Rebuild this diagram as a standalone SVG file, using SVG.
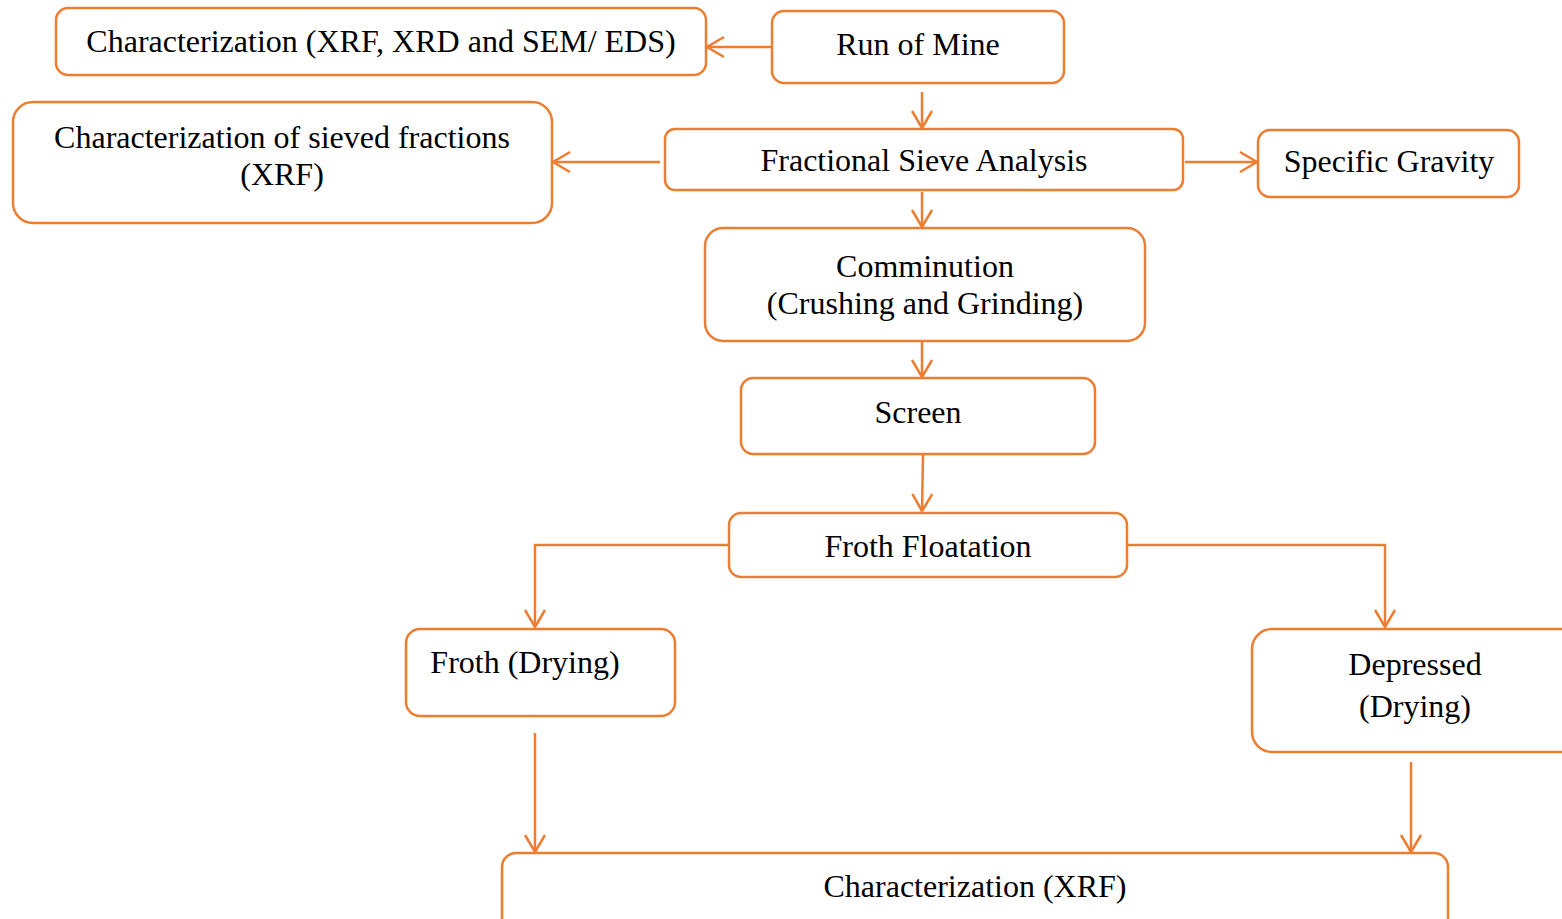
<svg xmlns="http://www.w3.org/2000/svg" width="1562" height="919" viewBox="0 0 1562 919">
<defs>
<marker id="arr" viewBox="0 0 24 24" refX="21" refY="12" markerWidth="24" markerHeight="24" markerUnits="userSpaceOnUse" orient="auto">
<polyline points="4,2 21,12 4,22" fill="none" stroke="#ED7D31" stroke-width="2.5"/>
</marker>
<style>
.box{fill:#fff;stroke:#ED7D31;stroke-width:2.5}
.c{fill:none;stroke:#ED7D31;stroke-width:2.5}
.t{font-family:'Liberation Serif','Times New Roman',Tinos,'DejaVu Serif',serif;font-size:32px;fill:#000;text-anchor:middle}
</style>
</defs>
<rect width="1562" height="919" fill="#fff"/>
<g id="n-char1"><rect class="box" x="56" y="8" width="650" height="67" rx="12"/><text class="t" x="381" y="52">Characterization (XRF, XRD and SEM/ EDS)</text></g>
<g id="n-rom"><rect class="box" x="772" y="11" width="292" height="72" rx="12"/><text class="t" x="918" y="55">Run of Mine</text></g>
<g id="n-sieve"><rect class="box" x="665" y="129" width="518" height="61" rx="10"/><text class="t" x="924" y="171">Fractional Sieve Analysis</text></g>
<g id="n-char2"><rect class="box" x="13" y="102" width="539" height="121" rx="20"/><text class="t" x="282" y="148">Characterization of sieved fractions</text><text class="t" x="282" y="185">(XRF)</text></g>
<g id="n-sg"><rect class="box" x="1258" y="130" width="261" height="67" rx="12"/><text class="t" x="1389" y="172">Specific Gravity</text></g>
<g id="n-comm"><rect class="box" x="705" y="228" width="440" height="113" rx="18"/><text class="t" x="925" y="277">Comminution</text><text class="t" x="925" y="314">(Crushing and Grinding)</text></g>
<g id="n-screen"><rect class="box" x="741" y="378" width="354" height="76" rx="12"/><text class="t" x="918" y="423">Screen</text></g>
<g id="n-ff"><rect class="box" x="729" y="513" width="398" height="64" rx="12"/><text class="t" x="928" y="557">Froth Floatation</text></g>
<g id="n-froth"><rect class="box" x="406" y="629" width="269" height="87" rx="14"/><text class="t" x="525" y="673">Froth (Drying)</text></g>
<g id="n-dep"><rect class="box" x="1252" y="629" width="330" height="123" rx="20"/><text class="t" x="1415" y="675">Depressed</text><text class="t" x="1415" y="717">(Drying)</text></g>
<g id="n-char3"><rect class="box" x="502" y="853" width="946" height="90" rx="14"/><text class="t" x="975" y="897">Characterization (XRF)</text></g>
<g id="connectors">
<line class="c" x1="772" y1="47" x2="707" y2="47" marker-end="url(#arr)"/>
<line class="c" x1="922" y1="92" x2="922" y2="128" marker-end="url(#arr)"/>
<line class="c" x1="660" y1="162" x2="553" y2="162" marker-end="url(#arr)"/>
<line class="c" x1="1185" y1="162" x2="1257" y2="162" marker-end="url(#arr)"/>
<line class="c" x1="922" y1="192" x2="922" y2="227" marker-end="url(#arr)"/>
<line class="c" x1="922" y1="342" x2="922" y2="377" marker-end="url(#arr)"/>
<line class="c" x1="923" y1="455" x2="922" y2="511" marker-end="url(#arr)"/>
<polyline class="c" points="729,545 535,545 535,627" marker-end="url(#arr)"/>
<polyline class="c" points="1127,545 1385,545 1385,627" marker-end="url(#arr)"/>
<line class="c" x1="535" y1="733" x2="535" y2="852" marker-end="url(#arr)"/>
<line class="c" x1="1411" y1="762" x2="1411" y2="852" marker-end="url(#arr)"/>
</g>
</svg>
